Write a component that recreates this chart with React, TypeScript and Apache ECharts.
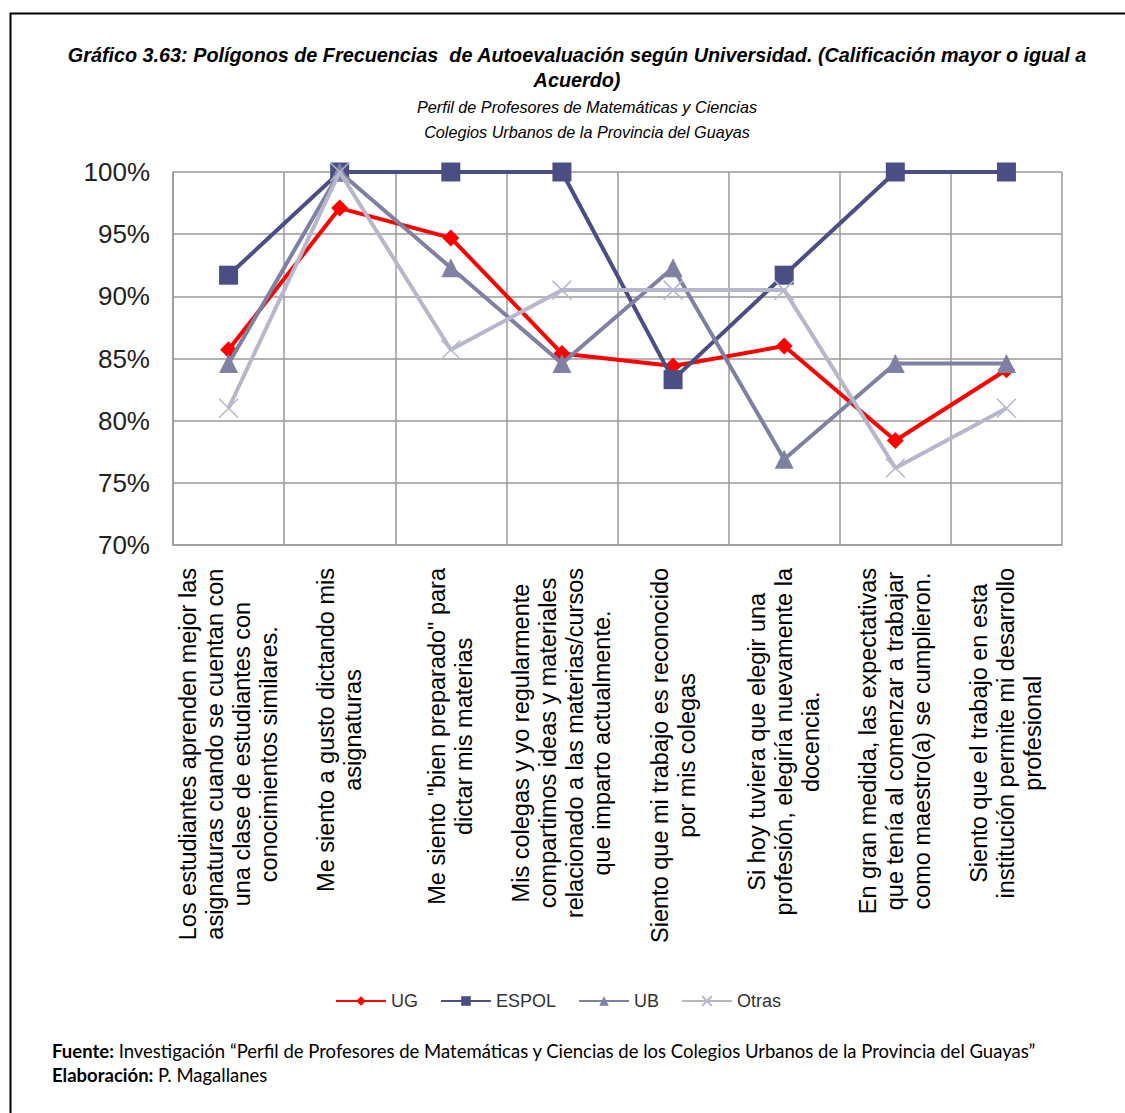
import React, { useEffect, useRef } from "react";
import * as echarts from "echarts";

const categories: string[] = [
  "Los estudiantes aprenden mejor las\nasignaturas cuando se cuentan con\nuna clase de estudiantes con\nconocimientos similares.",
  "Me siento a gusto dictando mis\nasignaturas",
  "Me siento \"bien preparado\" para\ndictar mis materias",
  "Mis colegas y yo regularmente\ncompartimos ideas y materiales\nrelacionado a las materias/cursos\nque imparto actualmente.",
  "Siento que mi trabajo es reconocido\npor mis colegas",
  "Si hoy tuviera que elegir una\nprofesión, elegiría nuevamente la\ndocencia.",
  "En gran medida, las expectativas\nque tenía al comenzar a trabajar\ncomo maestro(a) se cumplieron.",
  "Siento que el trabajo en esta\ninstitución permite mi desarrollo\nprofesional",
];

const seriesNames: string[] = ["UG", "ESPOL", "UB", "Otras"];
const ugValues: number[] = [85.7, 97.1, 94.7, 85.4, 84.4, 86.0, 78.4, 84.1];
const espolValues: number[] = [91.7, 100, 100, 100, 83.3, 91.7, 100, 100];
const ubValues: number[] = [84.6, 100, 92.3, 84.6, 92.3, 76.9, 84.6, 84.6];
const otrasValues: number[] = [81.0, 100, 85.7, 90.5, 90.5, 90.5, 76.2, 81.0];

const yTicks: number[] = [70, 75, 80, 85, 90, 95, 100];

const titleText =
  "Gráfico 3.63: Polígonos de Frecuencias  de Autoevaluación según Universidad. (Calificación mayor o igual a\nAcuerdo)";
const subtitleText =
  "Perfil de Profesores de Matemáticas y Ciencias\nColegios Urbanos de la Provincia del Guayas";
const sourceText =
  "{b|Fuente:} Investigación “Perfil de Profesores de Matemáticas y Ciencias de los Colegios Urbanos de la Provincia del Guayas”";
const authorText = "{b|Elaboración:} P. Magallanes";

const COLORS = ["#FF0000", "#4A4E82", "#7F81A2", "#B6B7CA"];

export default function App() {
  const ref = useRef<HTMLDivElement>(null);

  useEffect(() => {
    if (!ref.current) return;
    const chart = echarts.init(ref.current, undefined, { renderer: "svg" });
    const font = "'Liberation Sans', Arial, sans-serif";
    const footFont = "Lato, 'Open Sans', sans-serif";
    const lineStyleBase = { width: 4 };
    chart.setOption({
      animation: false,
      backgroundColor: "#ffffff",
      title: [
        {
          text: titleText,
          left: 572,
          textAlign: "center",
          top: 37,
          textStyle: {
            fontFamily: font,
            fontStyle: "italic",
            fontWeight: "bold",
            fontSize: 19.8,
            lineHeight: 25,
            color: "#000",
          },
        },
        {
          text: subtitleText,
          left: 582,
          textAlign: "center",
          top: 89,
          textStyle: {
            fontFamily: font,
            fontStyle: "italic",
            fontWeight: "normal",
            fontSize: 16.2,
            lineHeight: 25,
            color: "#000",
          },
        },
      ],
      grid: { left: 173, right: 63, top: 172, bottom: 568, containLabel: false },
      legend: {
        data: seriesNames,
        top: 987,
        left: 330,
        itemWidth: 50,
        itemHeight: 12,
        itemGap: 22,
        textStyle: { fontFamily: font, fontSize: 18, color: "#333" },
      },
      xAxis: {
        type: "category",
        data: categories,
        boundaryGap: true,
        axisLine: { show: true, lineStyle: { color: "#9a9a9a", width: 1.5 } },
        axisTick: { show: false },
        splitLine: { show: true, interval: 0, lineStyle: { color: "#9a9a9a", width: 1.5 } },
        axisLabel: {
          interval: 0,
          rotate: 90,
          margin: 23,
          fontFamily: font,
          fontSize: 23.5,
          lineHeight: 27,
          color: "#000",
          formatter: (v: string) =>
            v
              .split("\n")
              .map((l) => "{c|" + l + "}")
              .join("\n"),
          rich: {
            c: {
              align: "center",
              fontFamily: font,
              fontSize: 23.5,
              lineHeight: 27,
              color: "#000",
            },
          },
        },
      },
      yAxis: {
        type: "value",
        min: yTicks[0],
        max: yTicks[yTicks.length - 1],
        interval: 5,
        axisLine: { show: true, lineStyle: { color: "#9a9a9a", width: 1.5 } },
        axisTick: { show: false },
        splitLine: { show: true, lineStyle: { color: "#9a9a9a", width: 1.5 } },
        axisLabel: {
          formatter: "{value}%",
          margin: 23,
          fontFamily: font,
          fontSize: 26,
          color: "#222",
        },
      },
      series: [
        {
          name: seriesNames[0],
          type: "line",
          data: ugValues,
          symbol: "diamond",
          symbolSize: 17,
          color: COLORS[0],
          lineStyle: { ...lineStyleBase, color: COLORS[0] },
          itemStyle: { color: COLORS[0] },
          z: 2,
        },
        {
          name: seriesNames[1],
          type: "line",
          data: espolValues,
          symbol: "rect",
          symbolSize: 19,
          color: COLORS[1],
          lineStyle: { ...lineStyleBase, color: COLORS[1] },
          itemStyle: { color: COLORS[1] },
          z: 3,
        },
        {
          name: seriesNames[2],
          type: "line",
          data: ubValues,
          symbol: "triangle",
          symbolSize: 19,
          color: COLORS[2],
          lineStyle: { ...lineStyleBase, color: COLORS[2] },
          itemStyle: { color: COLORS[2] },
          z: 4,
        },
        {
          name: seriesNames[3],
          type: "line",
          data: otrasValues,
          symbol: "path://M0,0L10,10M10,0L0,10",
          symbolSize: 19,
          color: COLORS[3],
          lineStyle: { ...lineStyleBase, color: COLORS[3] },
          itemStyle: { color: COLORS[3], borderColor: COLORS[3], borderWidth: 1.5 },
          z: 5,
        },
      ],
      graphic: [
        {
          type: "rect",
          left: 8,
          top: 11,
          shape: { width: 1200, height: 1200 },
          style: { fill: "none", stroke: "#000", lineWidth: 2 },
          silent: true,
        },
        {
          type: "text",
          left: 52,
          top: 1041,
          style: {
            text: sourceText,
            fontFamily: footFont,
            fontSize: 18.5,
            fill: "#000",
            rich: { b: { fontWeight: "bold", fontFamily: footFont, fontSize: 18.5 } },
          },
        },
        {
          type: "text",
          left: 52,
          top: 1065,
          style: {
            text: authorText,
            fontFamily: footFont,
            fontSize: 18.5,
            fill: "#000",
            rich: { b: { fontWeight: "bold", fontFamily: footFont, fontSize: 18.5 } },
          },
        },
      ],
    });
    return () => chart.dispose();
  }, []);

  return (
    <div
      ref={ref}
      style={{ position: "absolute", left: 0, top: 0, width: 1125, height: 1113 }}
    />
  );
}
